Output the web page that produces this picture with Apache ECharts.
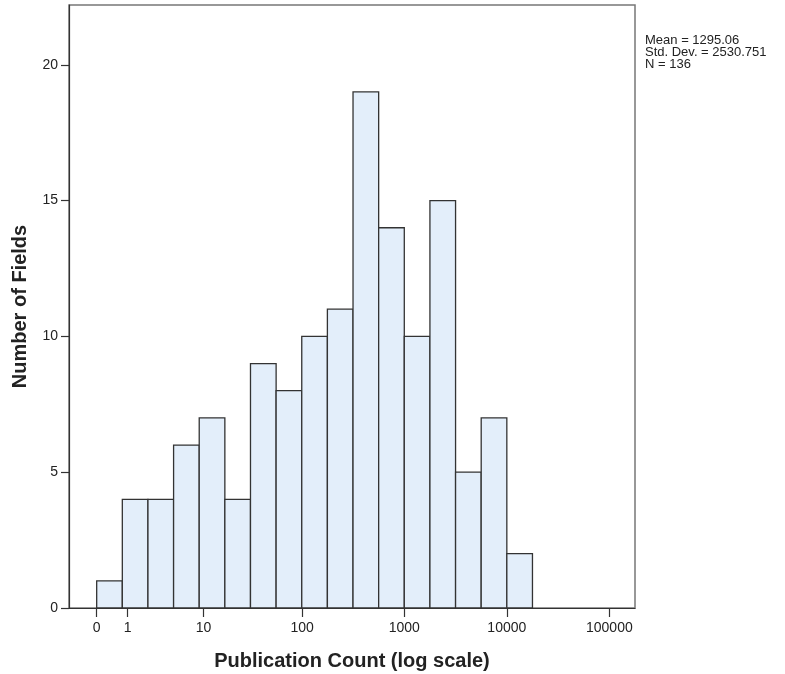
<!DOCTYPE html>
<html>
<head>
<meta charset="utf-8">
<script src="https://cdn.jsdelivr.net/npm/echarts@6/dist/echarts.min.js"></script>
<style>
html,body{margin:0;padding:0;background:#fff;}
#c{width:785px;height:674px;}
</style>
</head>
<body>
<div id="c"></div>
<script>
// Bin edges in log10(count + 1) units
var binStart = [0, 0.25, 0.5, 0.75, 1.0, 1.25, 1.5, 1.75, 2.0, 2.25, 2.5, 2.75, 3.0, 3.25, 3.5, 3.75, 4.0];
var binEnd   = [0.25, 0.5, 0.75, 1.0, 1.25, 1.5, 1.75, 2.0, 2.25, 2.5, 2.75, 3.0, 3.25, 3.5, 3.75, 4.0, 4.25];
var counts   = [1, 4, 4, 6, 7, 4, 9, 8, 10, 11, 19, 14, 10, 15, 5, 7, 2];
var xTickCounts = [0, 1, 10, 100, 1000, 10000, 100000];
var xTickLabels = ['0', '1', '10', '100', '1000', '10000', '100000'];
var yTicks = [0, 5, 10, 15, 20];
var statsLines = ['Mean = 1295.06', 'Std. Dev. = 2530.751', 'N = 136'];

var xTickPos = xTickCounts.map(function (v) { return Math.log10(v + 1); });

var data = counts.map(function (c, i) { return [binStart[i], binEnd[i], c]; });

var chart = echarts.init(document.getElementById('c'), null, {renderer: 'canvas'});
var font = 'Liberation Sans, Arial, sans-serif';
chart.setOption({
  animation: false,
  backgroundColor: '#fff',
  grid: {left: 69, top: 5, right: 150, bottom: 66, containLabel: false, outerBoundsMode: 'none',
         show: true, borderColor: '#777', borderWidth: 1.5, backgroundColor: 'transparent'},
  xAxis: {
    type: 'value', min: -0.27, max: 5.25,
    splitLine: {show: false},
    axisLine: {show: true, onZero: false, lineStyle: {color: '#333', width: 1.2}},
    axisTick: {show: true, length: 9, lineStyle: {color: '#333', width: 1.2}, customValues: xTickPos},
    axisLabel: {
      customValues: xTickPos, color: '#222', fontFamily: font, fontSize: 14, margin: 13,
      formatter: function (v) {
        var best = 0, bd = 1e9;
        for (var i = 0; i < xTickPos.length; i++) { var d = Math.abs(xTickPos[i] - v); if (d < bd) { bd = d; best = i; } }
        return xTickLabels[best];
      }
    },
    name: 'Publication Count (log scale)', nameLocation: 'middle', nameGap: 43,
    nameTextStyle: {fontFamily: font, fontSize: 20, fontWeight: 'bold', color: '#222'}
  },
  yAxis: {
    type: 'value', min: 0, max: 22.2,
    splitLine: {show: false},
    axisLine: {show: true, onZero: false, lineStyle: {color: '#333', width: 1.2}},
    axisTick: {show: true, length: 8, lineStyle: {color: '#333', width: 1.2}, customValues: yTicks},
    axisLabel: {customValues: yTicks, color: '#222', fontFamily: font, fontSize: 14, margin: 11},
    name: 'Number of Fields', nameLocation: 'middle', nameGap: 39, nameRotate: 90,
    nameTextStyle: {fontFamily: font, fontSize: 20, fontWeight: 'bold', color: '#222'}
  },
  series: [{
    type: 'custom',
    data: data,
    encode: {x: [0, 1], y: 2},
    renderItem: function (params, api) {
      var p0 = api.coord([api.value(0), api.value(2)]);
      var p1 = api.coord([api.value(1), 0]);
      return {
        type: 'rect',
        shape: {x: p0[0], y: p0[1], width: p1[0] - p0[0], height: p1[1] - p0[1]},
        style: {fill: '#e3eefa', stroke: '#333', lineWidth: 1.3}
      };
    }
  }],
  graphic: [{
    type: 'text', left: 645, top: 34,
    style: {text: statsLines.join('\n'), font: '13px ' + font, fill: '#222', lineHeight: 12}
  }]
});
</script>
</body>
</html>
